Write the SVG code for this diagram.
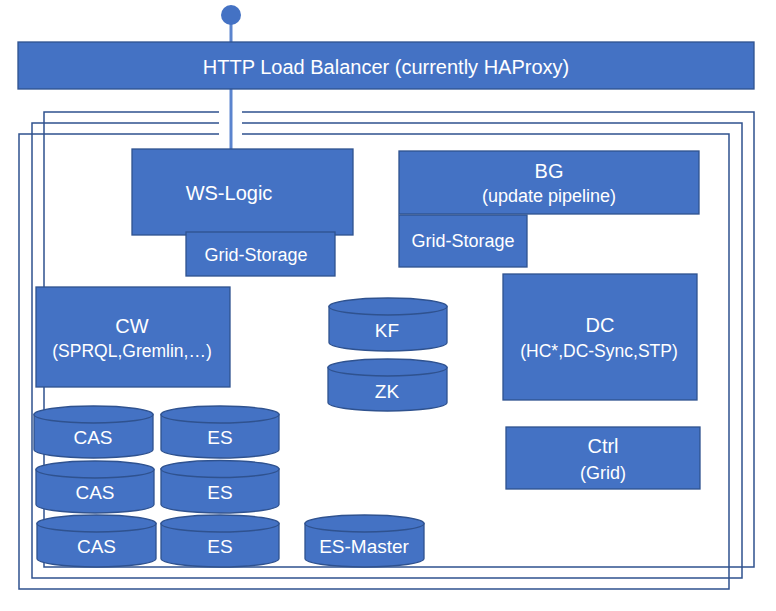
<svg xmlns="http://www.w3.org/2000/svg" width="776" height="611" viewBox="0 0 776 611">
<style>
.frame{fill:none;stroke:#2F528F;stroke-width:1.5}
.box{fill:#4472C4;stroke:#2F528F;stroke-width:1.3}
.t{fill:#FFFFFF;font-family:"Liberation Sans",Arial,sans-serif;text-anchor:middle}
.h{font-size:20px}
.s{font-size:18px}
.c{font-size:19px}
.link{fill:none;stroke:#5B84CE;stroke-width:3}
</style>
<rect width="776" height="611" fill="#FFFFFF"/>
<g id="frames">
<path class="frame" d="M219,112 H44 V567 H754 V112 H242"/>
<path class="frame" d="M219,123 H32 V578 H742 V123 H242"/>
<path class="frame" d="M219,134 H19 V589 H729 V134 H242"/>
</g>
<g id="connectors">
<line class="link" x1="231" y1="16" x2="231" y2="149"/>
</g>
<g id="entry">
<circle cx="231" cy="15" r="10" fill="#4472C4"/>
</g>
<g id="lb">
<rect class="box" x="18" y="42" width="736" height="47"/>
<text class="t h" x="386" y="74">HTTP Load Balancer (currently HAProxy)</text>
</g>
<g id="ws-logic">
<rect class="box" x="132" y="149" width="221" height="86"/>
<text class="t h" x="229" y="200">WS-Logic</text>
</g>
<g id="ws-grid-storage">
<rect class="box" x="186" y="232" width="149" height="44"/>
<text class="t s" x="256" y="261">Grid-Storage</text>
</g>
<g id="bg">
<rect class="box" x="399" y="151" width="300" height="63"/>
<text class="t h" x="549" y="178">BG</text>
<text class="t s" x="549" y="202">(update pipeline)</text>
</g>
<g id="bg-grid-storage">
<rect class="box" x="399" y="215" width="128" height="52"/>
<text class="t s" x="463" y="247">Grid-Storage</text>
</g>
<g id="cw">
<rect class="box" x="36" y="287" width="194" height="100"/>
<text class="t h" x="132" y="333">CW</text>
<text class="t" style="font-size:17.5px" x="132" y="357">(SPRQL,Gremlin,…)</text>
</g>
<g id="dc">
<rect class="box" x="503" y="274" width="194" height="126"/>
<text class="t h" x="600" y="332">DC</text>
<text class="t" style="font-size:17.5px" x="599" y="357">(HC*,DC-Sync,STP)</text>
</g>
<g id="ctrl">
<rect class="box" x="506" y="427" width="194" height="62"/>
<text class="t h" x="603" y="453">Ctrl</text>
<text class="t s" x="603" y="479">(Grid)</text>
</g>
<g id="kf">
<path class="box" d="M329,306.5 V342.5 A59,8.5 0 0 0 447,342.5 V306.5 Z"/>
<ellipse class="box" cx="388" cy="306.5" rx="59" ry="8.5"/>
<text class="t c" x="387" y="337">KF</text>
</g>
<g id="zk">
<path class="box" d="M328,367.5 V402.5 A59.5,8.5 0 0 0 447,402.5 V367.5 Z"/>
<ellipse class="box" cx="387.5" cy="367.5" rx="59.5" ry="8.5"/>
<text class="t c" x="387" y="398">ZK</text>
</g>
<g id="cas1">
<path class="box" d="M34,414.5 V449.5 A59.5,8.5 0 0 0 153,449.5 V414.5 Z"/>
<ellipse class="box" cx="93.5" cy="414.5" rx="59.5" ry="8.5"/>
<text class="t c" x="93" y="444">CAS</text>
</g>
<g id="es1">
<path class="box" d="M161,414.5 V449.5 A59,8.5 0 0 0 279,449.5 V414.5 Z"/>
<ellipse class="box" cx="220" cy="414.5" rx="59" ry="8.5"/>
<text class="t c" x="220" y="444">ES</text>
</g>
<g id="cas2">
<path class="box" d="M36,469.5 V504.5 A59,8.5 0 0 0 154,504.5 V469.5 Z"/>
<ellipse class="box" cx="95" cy="469.5" rx="59" ry="8.5"/>
<text class="t c" x="95" y="499">CAS</text>
</g>
<g id="es2">
<path class="box" d="M161,469 V504.5 A59,8.5 0 0 0 279,504.5 V469 Z"/>
<ellipse class="box" cx="220" cy="469" rx="59" ry="8.5"/>
<text class="t c" x="220" y="499">ES</text>
</g>
<g id="cas3">
<path class="box" d="M37,523.5 V558.5 A59.5,8.5 0 0 0 156,558.5 V523.5 Z"/>
<ellipse class="box" cx="96.5" cy="523.5" rx="59.5" ry="8.5"/>
<text class="t c" x="96.5" y="553">CAS</text>
</g>
<g id="es3">
<path class="box" d="M161,523.5 V558.5 A59,8.5 0 0 0 279,558.5 V523.5 Z"/>
<ellipse class="box" cx="220" cy="523.5" rx="59" ry="8.5"/>
<text class="t c" x="220" y="553">ES</text>
</g>
<g id="es-master">
<path class="box" d="M305,523.5 V558.5 A59.5,8.5 0 0 0 424,558.5 V523.5 Z"/>
<ellipse class="box" cx="364.5" cy="523.5" rx="59.5" ry="8.5"/>
<text class="t c" x="364" y="553">ES-Master</text>
</g>
</svg>
